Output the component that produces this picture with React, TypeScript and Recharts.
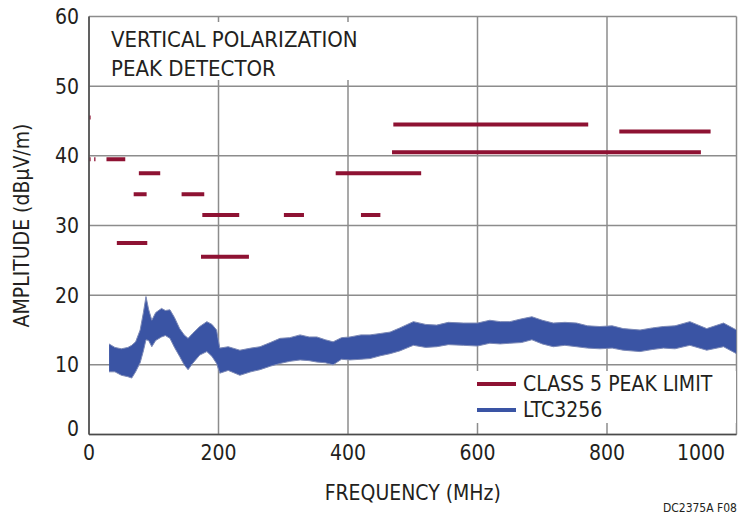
import React from 'react';
import {
  ComposedChart,
  Line,
  Area,
  XAxis,
  YAxis,
  CartesianGrid,
  Legend,
  Label,
  Customized,
} from 'recharts';

const FONT = "'Liberation Sans Narrow', 'Arial Narrow', 'DejaVu Sans Condensed', sans-serif";
const RED = '#8e1233';
const BLUE = '#3a54a4';
const INK = '#231f20';

const freqTicks = [0, 200, 400, 600, 800, 1000];
const ampTicks = [0, 10, 20, 30, 40, 50, 60];

// CLASS 5 peak limit, one flat segment per band (MHz, dBµV/m)
const limitStart = [0.5, 8, 0.5, 27, 77, 69, 143, 175, 301, 420, 43, 173, 381, 470, 468, 819];
const limitEnd = [2.5, 10, 2.5, 56, 110, 89, 178, 232, 332, 450, 90, 247, 513, 771, 945, 960];
const limitLevel = [39.5, 39.5, 45.5, 39.5, 37.5, 34.5, 34.5, 31.5, 31.5, 31.5, 27.5, 25.5, 37.5, 44.5, 40.5, 43.5];

// LTC3256 measured trace, read as low/high edge of the noise band
const noiseFreq = [
  31, 40, 50, 60, 66, 72, 79, 84, 88, 92, 97, 103, 112, 118, 125, 132, 140, 147, 153, 160,
  171, 182, 190, 197, 202, 215, 233, 250, 264, 280, 295, 310, 326, 340, 352, 365, 377, 390,
  403, 420, 434, 450, 465, 480, 501, 520, 537, 555, 578, 600, 619, 635, 650, 668, 684, 700,
  717, 735, 753, 770, 789, 808, 825, 851, 870, 887, 905, 928, 954, 980, 1000,
];
const noiseLow = [
  9, 9, 8.5, 8.3, 8.1, 9, 10.3, 12, 13.6, 13.5, 12.6, 13.5, 14, 14.2, 13.8, 12.5, 11.2, 10, 9.3, 10.2,
  11.4, 11.9, 11.2, 10.2, 8.8, 9.2, 8.5, 9, 9.3, 9.8, 10.2, 10.5, 10.7, 10.6, 10.4, 10.3, 10, 10.8,
  10.7, 10.8, 10.9, 11.3, 11.6, 12, 12.8, 12.5, 12.6, 12.9, 12.8, 12.7, 13.1, 13, 13.1, 13.2, 13.6, 13,
  12.6, 12.8, 12.6, 12.4, 12.3, 12.4, 12.1, 11.9, 12.2, 12.4, 12.3, 12.8, 12.1, 12.6, 11.6,
];
const noiseHigh = [
  13, 12.5, 12.3, 12.5, 12.8, 13.3, 15, 17.5, 19.8, 18, 16.4, 17.5, 18.1, 17.8, 17.9, 16.8, 15.2, 14.3, 13.8, 14.5,
  15.5, 16.2, 15.8, 15, 12.4, 12.6, 12.1, 12.4, 12.6, 13.2, 13.8, 13.9, 14.3, 14, 14, 13.6, 13.3, 13.9,
  14, 14.3, 14.3, 14.5, 14.7, 15.3, 16.2, 15.8, 15.7, 16.1, 16, 16, 16.4, 16.2, 16.2, 16.6, 16.9, 16.4,
  16, 16.1, 16, 15.6, 15.5, 15.6, 15.2, 15, 15.3, 15.5, 15.6, 16.2, 15.2, 16, 15,
];

const limitData = limitStart.flatMap((s, i) => [
  { freq: s, limit: limitLevel[i] },
  { freq: limitEnd[i], limit: limitLevel[i] },
  { freq: limitEnd[i], limit: null },
]);

const noiseData = noiseFreq.map((f, i) => ({ freq: f, band: [noiseLow[i], noiseHigh[i]] }));

const XTick = ({ x, y, payload }: any) => (
  <text
    x={x}
    y={y}
    dy={17}
    textAnchor={payload.value === 1000 ? 'end' : 'middle'}
    fontFamily={FONT}
    fontSize={21}
    fill={INK}
  >
    {payload.value}
  </text>
);

const YTick = ({ x, y, payload }: any) => (
  <text
    x={x}
    y={payload.value === 0 ? y - 6 : y}
    dy={7.5}
    textAnchor="end"
    fontFamily={FONT}
    fontSize={21}
    fill={INK}
  >
    {payload.value}
  </text>
);

const LegendBox = () => (
  <div style={{ background: '#fff', fontFamily: FONT, fontSize: 21, color: INK, paddingLeft: 9 }}>
    <div style={{ display: 'flex', alignItems: 'center', height: 26 }}>
      <span style={{ width: 39, height: 4, background: RED, marginRight: 7 }} />
      CLASS 5 PEAK LIMIT
    </div>
    <div style={{ display: 'flex', alignItems: 'center', height: 26 }}>
      <span style={{ width: 39, height: 4, background: BLUE, marginRight: 7 }} />
      LTC3256
    </div>
  </div>
);

const Notes = () => (
  <g fontFamily={FONT} fill={INK}>
    <rect x={100} y={22} width={265} height={58} fill="#fff" />
    <text x={111} y={47} fontSize={22}>VERTICAL POLARIZATION</text>
    <text x={111} y={76} fontSize={22}>PEAK DETECTOR</text>
    <text x={737} y={512} fontSize={12} textAnchor="end">DC2375A F08</text>
  </g>
);

export default function App() {
  return (
    <div style={{ position: 'absolute', left: 0, top: 0, width: 741, height: 516, background: '#fff' }}>
      <ComposedChart width={741} height={516} margin={{ top: 16.5, right: 4.5, bottom: 6.5, left: 0 }}>
        <CartesianGrid stroke="#8c8c8c" strokeWidth={1.5} />
        <Customized component={Notes} />
        <XAxis
          type="number"
          dataKey="freq"
          domain={[0, 1000]}
          ticks={freqTicks}
          height={75}
          tickLine={false}
          axisLine={{ stroke: '#4a4a4a', strokeWidth: 1.5 }}
          tick={<XTick />}
          allowDataOverflow
        >
          <Label
            value="FREQUENCY (MHz)"
            position="insideBottom"
            offset={10}
            style={{ fontFamily: FONT, fontSize: 21, fill: INK }}
          />
        </XAxis>
        <YAxis
          type="number"
          domain={[0, 60]}
          ticks={ampTicks}
          width={89}
          tickLine={false}
          tickMargin={4}
          axisLine={{ stroke: '#4a4a4a', strokeWidth: 1.5 }}
          tick={<YTick />}
        >
          <Label
            value="AMPLITUDE (dBµV/m)"
            angle={-90}
            position="insideLeft"
            offset={22}
            style={{ fontFamily: FONT, fontSize: 21, fill: INK, textAnchor: 'middle' }}
          />
        </YAxis>
        <Legend
          layout="vertical"
          align="center"
          verticalAlign="middle"
          wrapperStyle={{ left: 468, top: 371, width: 268 }}
          content={<LegendBox />}
        />
        <Area
          data={noiseData}
          dataKey="band"
          type="linear"
          fill={BLUE}
          fillOpacity={1}
          stroke="#7c89b6"
          strokeWidth={1}
          isAnimationActive={false}
        />
        <Line
          data={limitData}
          dataKey="limit"
          type="linear"
          stroke={RED}
          strokeWidth={4}
          dot={false}
          connectNulls={false}
          isAnimationActive={false}
        />
      </ComposedChart>
    </div>
  );
}
